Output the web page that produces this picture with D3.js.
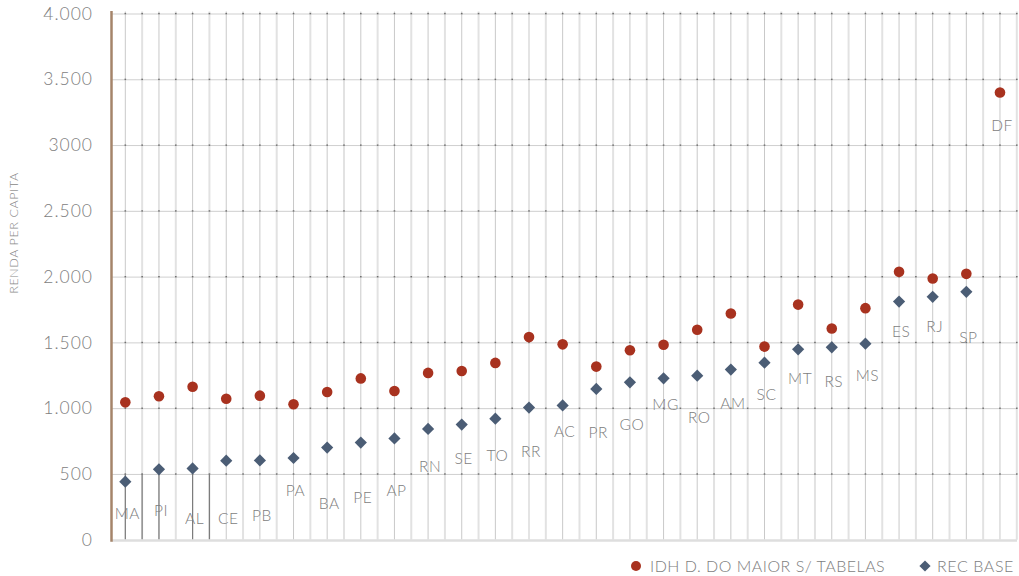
<!DOCTYPE html>
<html>
<head>
<meta charset="utf-8">
<script src="https://cdn.jsdelivr.net/npm/d3@7"></script>
<style>
  html, body { margin: 0; padding: 0; background: #fff; }
  svg { display: block; font-family: "Lato", "Open Sans", sans-serif; font-weight: 300; }
  svg text { opacity: 0.999; }
</style>
</head>
<body>
<svg id="chart" width="1019" height="576"></svg>
<script>
// States ordered by REC BASE income
const states = ["MA","PI","AL","CE","PB","PA","BA","PE","AP","RN","SE","TO","RR","AC",
                "PR","GO","MG","RO","AM","SC","MT","RS","MS","ES","RJ","SP","DF"];

// IDH D. DO MAIOR S/ TABELAS
const idhValues = [1044,1090,1163,1072,1095,1030,1123,1226,1130,1268,1282,1344,1540,1485,
                   1316,1440,1482,1596,1719,1468,1787,1605,1760,2036,1985,2021,3400];

// REC BASE (no value for DF)
const recValues = [441,535,542,601,603,621,700,738,770,842,875,920,1004,1021,
                   1146,1196,1227,1247,1293,1346,1447,1462,1490,1810,1846,1884,null];

const yTicks = [0,500,1000,1500,2000,2500,3000,3500,4000];
const yTickLabels = ["0","500","1.000","1.500","2.000","2.500","3000","3.500","4.000"];

const seriesNames = ["IDH D. DO MAIOR S/ TABELAS", "REC BASE"];
const yTitle = "RENDA PER CAPITA";

// vertical offset (px) of each state label below its lowest marker
const labelDy = [32,41,50,58,55,33,56,55,52,38,34,37,44,26,44,42,26,42,34,32,29,34,32,30,30,46,33];

// half-band grid positions that carry a darker guide from 500 down to 0
const darkGuides = [0,1,2,4,5];

const RED = "#A8321F", BLUE = "#4B5D75", TEXT = "#7d7d7d";

const svg = d3.select("#chart");
const plotLeft = 111.5, plotRight = 1017, plotTop = 13.5, plotBottom = 539.7;

const x = d3.scaleBand().domain(states).range([108.5, 1016.8]).paddingInner(0).paddingOuter(0);
const bw = x.bandwidth();
const cx = s => x(s) + bw / 2;
const y = d3.scaleLinear().domain([0, 4000]).range([plotBottom, plotTop]);

// vertical grid: band boundaries (light, wide) and band centres (thin)
const boundaries = states.slice(1).map(s => x(s)).concat([x.range()[1]]);
svg.append("g").selectAll("line").data(boundaries).join("line")
  .attr("x1", d => d).attr("x2", d => d).attr("y1", plotTop - 2).attr("y2", plotBottom)
  .attr("stroke", "#e2e2e2").attr("stroke-width", 2);
svg.append("g").selectAll("line").data(states).join("line")
  .attr("x1", d => cx(d)).attr("x2", d => cx(d)).attr("y1", plotTop - 2).attr("y2", plotBottom)
  .attr("stroke", "#c9c9c9").attr("stroke-width", 1);

// horizontal grid
const yGrid = svg.append("g").call(
  d3.axisLeft(y).tickValues(yTicks.filter(v => v > 0)).tickSize(-(plotRight - plotLeft)).tickFormat("")
).attr("transform", `translate(${plotLeft},0)`);
yGrid.select(".domain").remove();
yGrid.selectAll(".tick line").attr("stroke", "#cfcfcf").attr("stroke-width", 1);

// small dark marks where grid lines cross
const crossX = states.map(cx).concat(boundaries);
const crossPts = [];
yTicks.filter(v => v > 0).forEach(v => crossX.forEach(px => crossPts.push([px, y(v)])));
svg.append("g").selectAll("rect").data(crossPts).join("rect")
  .attr("x", d => d[0] - 0.8).attr("y", d => d[1] - 0.6).attr("width", 1.6).attr("height", 1.4)
  .attr("fill", "#707070");

// darker guides in the lowest band
svg.append("g").selectAll("line").data(darkGuides).join("line")
  .attr("x1", k => x.range()[0] + bw / 2 * (k + 1))
  .attr("x2", k => x.range()[0] + bw / 2 * (k + 1))
  .attr("y1", y(500)).attr("y2", plotBottom)
  .attr("stroke", "#7c7c7c").attr("stroke-width", 1.2);

// bottom axis line
svg.append("line").attr("x1", plotLeft).attr("x2", plotRight)
  .attr("y1", plotBottom + 0.8).attr("y2", plotBottom + 0.8)
  .attr("stroke", "#dedede").attr("stroke-width", 2.5);

// left axis line
svg.append("line").attr("x1", plotLeft).attr("x2", plotLeft).attr("y1", 11).attr("y2", plotBottom + 2)
  .attr("stroke", "#A5846A").attr("stroke-width", 2.5);

// y tick labels
svg.append("g").selectAll("text").data(yTicks).join("text")
  .attr("x", 93).attr("y", d => y(d)).attr("dy", "0.35em")
  .attr("text-anchor", "end").attr("font-size", 17.5).attr("fill", TEXT)
  .attr("letter-spacing", 1)
  .text((d, i) => yTickLabels[i]);

// y title
svg.append("text")
  .attr("transform", "translate(18,233) rotate(-90)")
  .attr("text-anchor", "middle").attr("font-size", 12.5).attr("fill", "#888")
  .attr("letter-spacing", 0.6)
  .text(yTitle);

// REC BASE diamonds
const diamond = d3.symbol().type(d3.symbolDiamond2).size(95);
svg.append("g").selectAll("path").data(states.filter((s, i) => recValues[i] != null)).join("path")
  .attr("d", diamond)
  .attr("transform", s => `translate(${cx(s)},${y(recValues[states.indexOf(s)])})`)
  .attr("fill", BLUE);

// IDH circles
svg.append("g").selectAll("circle").data(states).join("circle")
  .attr("cx", s => cx(s)).attr("cy", (s, i) => y(idhValues[i])).attr("r", 5.3)
  .attr("fill", RED);

// state labels under the lowest marker
svg.append("g").selectAll("text").data(states).join("text")
  .attr("x", s => cx(s) + 2)
  .attr("y", (s, i) => {
    const v = recValues[i] != null ? recValues[i] : idhValues[i];
    return y(v) + labelDy[i];
  })
  .attr("dy", "0.35em").attr("text-anchor", "middle")
  .attr("font-size", 15.5).attr("fill", TEXT).attr("letter-spacing", 0.5)
  .text(s => s);

// legend
const lg = svg.append("g");
lg.append("circle").attr("cx", 636).attr("cy", 566).attr("r", 5).attr("fill", RED);
lg.append("text").attr("x", 650).attr("y", 566).attr("dy", "0.35em")
  .attr("font-size", 16).attr("letter-spacing", 0.5).attr("fill", TEXT).text(seriesNames[0]);
lg.append("path").attr("d", d3.symbol().type(d3.symbolDiamond2).size(80))
  .attr("transform", "translate(925,566)").attr("fill", BLUE);
lg.append("text").attr("x", 937).attr("y", 566).attr("dy", "0.35em")
  .attr("font-size", 16).attr("letter-spacing", 0.6).attr("fill", TEXT).text(seriesNames[1]);
</script>
</body>
</html>
